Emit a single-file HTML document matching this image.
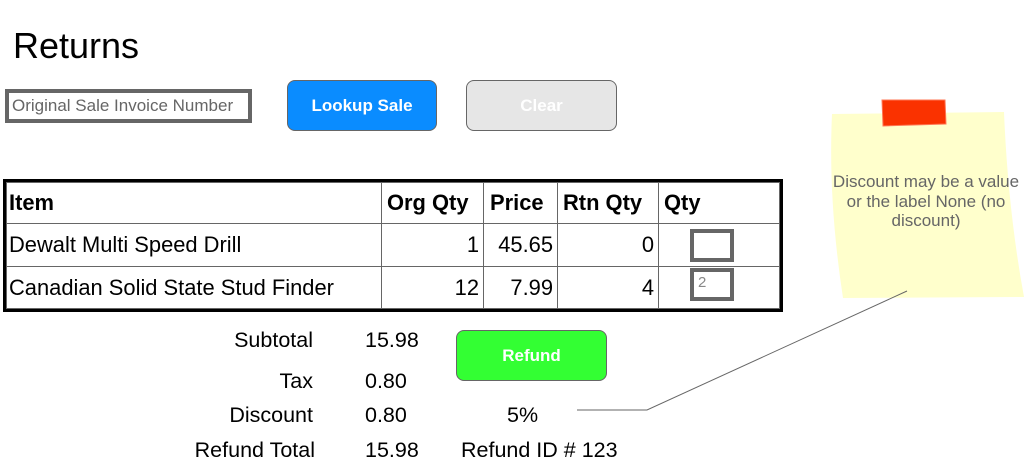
<!DOCTYPE html>
<html><head><meta charset="utf-8"><style>
body{margin:0;width:1027px;height:464px;background:#fff;position:relative;overflow:hidden;font-family:"Liberation Sans",Arial,sans-serif;color:#000}
.a{position:absolute}
.cell{position:absolute;font-size:21.9px;line-height:21px}
.r{text-align:right}
.hl{position:absolute;background:#666;height:1px}
.vl{position:absolute;background:#666;width:1px}
.lbl{position:absolute;font-size:21.5px;line-height:21px;text-align:right;width:200px}
.val{position:absolute;font-size:21.5px;line-height:21px}
</style></head><body>
<div class="a" style="left:13px;top:28px;font-size:36px;line-height:36px">Returns</div>

<div class="a" style="left:5px;top:89px;width:236px;height:26px;border:4px solid #666;font-size:17px;color:#666;line-height:26px;padding-left:3px;box-sizing:content-box;white-space:nowrap">Original Sale Invoice Number</div>
<div class="a" style="left:287px;top:80px;width:148px;height:49px;background:#0a8cff;border:1px solid #666;border-radius:8px;color:#fff;font-weight:bold;font-size:17px;line-height:49px;text-align:center">Lookup Sale</div>
<div class="a" style="left:466px;top:80px;width:149px;height:49px;background:#e6e6e6;border:1px solid #666;border-radius:8px;color:#fff;font-weight:bold;font-size:17px;line-height:49px;text-align:center">Clear</div>

<div class="a" style="left:3px;top:179px;width:774px;height:127px;border:3px solid #000"></div>
<div class="a" style="left:6px;top:182px;width:772px;height:125px;border:1px solid #666"></div>
<div class="vl" style="left:381px;top:182px;height:126px"></div>
<div class="vl" style="left:483px;top:182px;height:126px"></div>
<div class="vl" style="left:557px;top:182px;height:126px"></div>
<div class="vl" style="left:658px;top:182px;height:126px"></div>
<div class="hl" style="left:6px;top:223px;width:773px"></div>
<div class="hl" style="left:6px;top:266px;width:773px"></div>

<div class="cell" style="left:9px;top:192px;font-weight:bold">Item</div>
<div class="cell" style="left:387px;top:192px;font-weight:bold">Org Qty</div>
<div class="cell" style="left:490px;top:192px;font-weight:bold">Price</div>
<div class="cell" style="left:563px;top:192px;font-weight:bold">Rtn Qty</div>
<div class="cell" style="left:664px;top:192px;font-weight:bold">Qty</div>

<div class="cell" style="left:9px;top:234px">Dewalt Multi Speed Drill</div>
<div class="cell r" style="left:381px;width:98px;top:234px">1</div>
<div class="cell r" style="left:483px;width:70px;top:234px">45.65</div>
<div class="cell r" style="left:557px;width:97px;top:234px">0</div>
<div class="a" style="left:690px;top:229px;width:36px;height:25px;border:4px solid #666"></div>

<div class="cell" style="left:9px;top:277px">Canadian Solid State Stud Finder</div>
<div class="cell r" style="left:381px;width:98px;top:277px">12</div>
<div class="cell r" style="left:483px;width:70px;top:277px">7.99</div>
<div class="cell r" style="left:557px;width:97px;top:277px">4</div>
<div class="a" style="left:690px;top:268px;height:25px;border:4px solid #666;color:#888;font-size:15px;line-height:22px;padding-left:4px;box-sizing:content-box;width:32px">2</div>

<div class="lbl" style="left:113px;top:330px">Subtotal</div>
<div class="val" style="left:365px;top:330px">15.98</div>
<div class="lbl" style="left:113px;top:371px">Tax</div>
<div class="val" style="left:365px;top:371px">0.80</div>
<div class="lbl" style="left:113px;top:405px">Discount</div>
<div class="val" style="left:365px;top:405px">0.80</div>
<div class="val" style="left:507px;top:405px">5%</div>
<div class="lbl" style="left:115px;top:440px">Refund Total</div>
<div class="val" style="left:365px;top:440px">15.98</div>
<div class="val" style="left:461px;top:440px">Refund ID # 123</div>

<div class="a" style="left:456px;top:330px;width:149px;height:49px;background:#33ff33;border:1px solid #666;border-radius:8px;color:#fff;font-weight:bold;font-size:17px;line-height:49px;text-align:center">Refund</div>

<svg class="a" style="left:0;top:0" width="1027" height="464">
<path d="M832,114 L1004,112 Q1008,210 1024,297 L843,298 Q828,200 832,114 Z" fill="#ffffcc"/>
<polygon points="882,100 945,100 946,124 883,126" fill="#fa3200" stroke="#ff7755" stroke-width="1"/>
<polyline points="577,410 647,410 907,291" fill="none" stroke="#666" stroke-width="1"/>
<text font-family="Liberation Sans, Arial, sans-serif" font-size="17" fill="#666" text-anchor="middle"><tspan x="926" y="187">Discount may be a value</tspan><tspan x="926" y="207">or the label None (no</tspan><tspan x="926" y="226">discount)</tspan></text>
</svg>
</body></html>
